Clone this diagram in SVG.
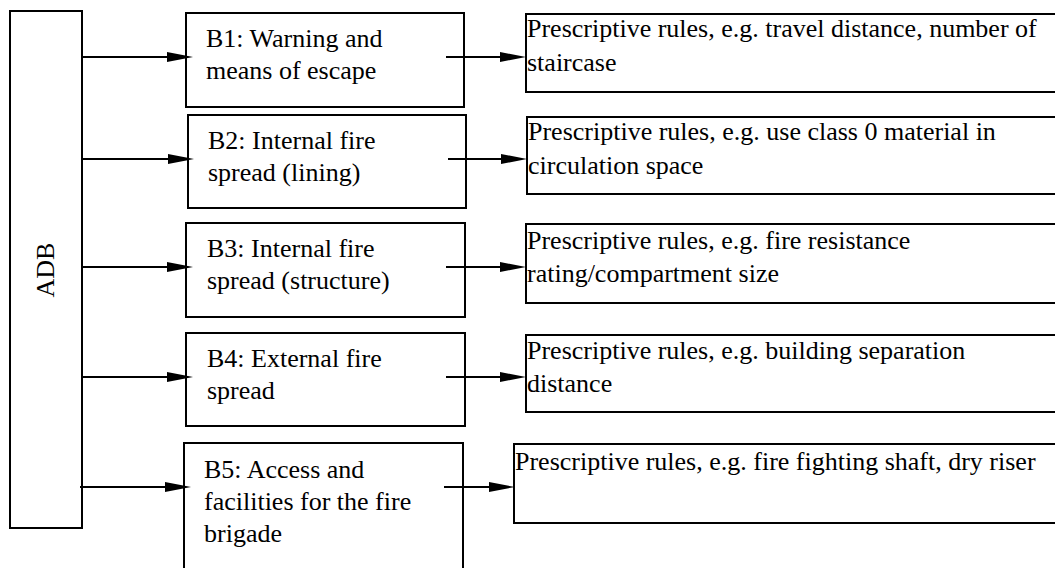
<svg xmlns="http://www.w3.org/2000/svg" width="1055" height="568" viewBox="0 0 1055 568">
<style>
.box{fill:#fff;stroke:#000;stroke-width:2}
.c{stroke:#000;stroke-width:2;fill:none}
.h{fill:#000;stroke:none}
</style>
<defs>
<path id="ah" d="M-26,-5 L0,0 L-26,5 z"/>
</defs>
<g id="adb">
<rect class="box" x="10" y="11" width="72" height="517"/>
<text font-family="Liberation Serif" font-size="26" transform="translate(54,270) rotate(-90)" text-anchor="middle">ADB</text>
</g>
<g id="b1">
<rect class="box" x="186" y="13" width="278" height="94"/>
<text font-family="Liberation Serif" font-size="26" x="206" y="47">B1: Warning and</text>
<text font-family="Liberation Serif" font-size="26" x="206" y="79">means of escape</text>
</g>
<g id="b2">
<rect class="box" x="188" y="115" width="278" height="93"/>
<text font-family="Liberation Serif" font-size="26" x="208" y="149">B2: Internal fire</text>
<text font-family="Liberation Serif" font-size="26" x="208" y="181">spread (lining)</text>
</g>
<g id="b3">
<rect class="box" x="186" y="223" width="279" height="94"/>
<text font-family="Liberation Serif" font-size="26" x="207" y="257">B3: Internal fire</text>
<text font-family="Liberation Serif" font-size="26" x="207" y="289">spread (structure)</text>
</g>
<g id="b4">
<rect class="box" x="186" y="333" width="279" height="93"/>
<text font-family="Liberation Serif" font-size="26" x="207" y="367">B4: External fire</text>
<text font-family="Liberation Serif" font-size="26" x="207" y="399">spread</text>
</g>
<g id="b5">
<rect class="box" x="184" y="443" width="279" height="140"/>
<text font-family="Liberation Serif" font-size="26" x="204" y="478">B5: Access and</text>
<text font-family="Liberation Serif" font-size="26" x="204" y="510">facilities for the fire</text>
<text font-family="Liberation Serif" font-size="26" x="204" y="542">brigade</text>
</g>
<g id="r1">
<rect class="box" x="526" y="14" width="540" height="78"/>
<text font-family="Liberation Serif" font-size="26" x="527" y="37">Prescriptive rules, e.g. travel distance, number of</text>
<text font-family="Liberation Serif" font-size="26" x="527" y="71">staircase</text>
</g>
<g id="r2">
<rect class="box" x="527" y="117" width="540" height="77"/>
<text font-family="Liberation Serif" font-size="26" x="528" y="140">Prescriptive rules, e.g. use class 0 material in</text>
<text font-family="Liberation Serif" font-size="26" x="528" y="174">circulation space</text>
</g>
<g id="r3">
<rect class="box" x="526" y="224" width="540" height="79"/>
<text font-family="Liberation Serif" font-size="26" x="527" y="249">Prescriptive rules, e.g. fire resistance</text>
<text font-family="Liberation Serif" font-size="26" x="527" y="282">rating/compartment size</text>
</g>
<g id="r4">
<rect class="box" x="526" y="335" width="540" height="77"/>
<text font-family="Liberation Serif" font-size="26" x="527" y="359">Prescriptive rules, e.g. building separation</text>
<text font-family="Liberation Serif" font-size="26" x="527" y="392">distance</text>
</g>
<g id="r5">
<rect class="box" x="514" y="444" width="550" height="79"/>
<text font-family="Liberation Serif" font-size="26" x="515" y="470">Prescriptive rules, e.g. fire fighting shaft, dry riser</text>
</g>
<g id="connectors">
<path class="c" d="M82,57 H170 M82,159 H171 M82,267 H170 M82,377 H170 M80,487 H168 M446,57 H503 M448,159 H504 M446,267 H503 M446,377 H503 M444,487 H492"/>
<use class="h" href="#ah" x="193" y="57"/>
<use class="h" href="#ah" x="194" y="159"/>
<use class="h" href="#ah" x="193" y="267"/>
<use class="h" href="#ah" x="193" y="377"/>
<use class="h" href="#ah" x="191" y="487"/>
<use class="h" href="#ah" x="526" y="57"/>
<use class="h" href="#ah" x="527" y="159"/>
<use class="h" href="#ah" x="526" y="267"/>
<use class="h" href="#ah" x="526" y="377"/>
<use class="h" href="#ah" x="515" y="487"/>
</g>
</svg>
